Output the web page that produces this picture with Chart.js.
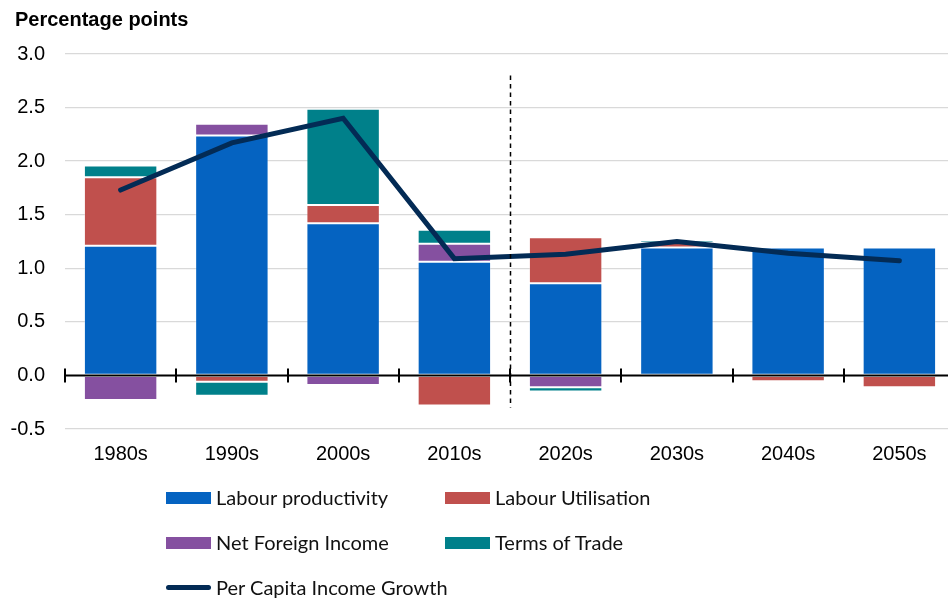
<!DOCTYPE html>
<html>
<head>
<meta charset="utf-8">
<script src="https://cdn.jsdelivr.net/npm/chart.js@4"></script>
<style>
  html, body { margin: 0; padding: 0; background: #fff; overflow: hidden; }
  #wrap { position: relative; width: 958px; height: 601px; }
  #legend { position: absolute; left: 0; top: 0; font-family: Lato, "Open Sans", sans-serif; font-size: 20px; color: #111; }
  .item { position: absolute; height: 24px; line-height: 24px; white-space: nowrap; }
  .swatch { position: absolute; left: 0; top: 6px; width: 45px; height: 12px; }
  .swatch.line { top: 9px; height: 5px; border-radius: 3px; }
  .item span.txt { position: absolute; left: 50px; top: -1px; }
</style>
</head>
<body>
<div id="wrap">
  <canvas id="chart" width="958" height="601"></canvas>
  <div id="legend"></div>
</div>
<script>
const decades = ["1980s", "1990s", "2000s", "2010s", "2020s", "2030s", "2040s", "2050s"];

const labourProductivity = [1.21, 2.24, 1.42, 1.06, 0.86, 1.195, 1.195, 1.195];
const labourUtilisation  = [0.64, -0.06, 0.17, -0.28, 0.43, 0.04, -0.055, -0.11];
const netForeignIncome   = [-0.23, 0.11, -0.09, 0.17, -0.11, -0.02, 0, 0];
const termsOfTrade       = [0.11, -0.13, 0.90, 0.13, -0.04, 0.025, 0, 0];
const perCapitaGrowth    = [1.73, 2.17, 2.40, 1.09, 1.13, 1.25, 1.14, 1.07];

const yTicks = [-0.5, 0.0, 0.5, 1.0, 1.5, 2.0, 2.5, 3.0];

const colours = {
  blue: "#0563C1",
  red: "#C0504D",
  purple: "#8550A0",
  teal: "#00808A",
  navy: "#032B55"
};

const axisFont = "'Liberation Sans', Arial, sans-serif";

// title, zero line, tick marks and the dashed forecast divider
const axisExtras = {
  id: "axisExtras",
  afterDatasetsDraw(chart) {
    const ctx = chart.ctx;
    const x = chart.scales.x;
    const y = chart.scales.y;
    const y0 = y.getPixelForValue(0);
    ctx.save();
    ctx.strokeStyle = "#000";
    ctx.lineWidth = 2;
    ctx.beginPath();
    ctx.moveTo(chart.chartArea.left, y0);
    ctx.lineTo(chart.chartArea.right, y0);
    for (let i = 0; i <= decades.length; i++) {
      const px = Math.round(x.getPixelForValue(i - 0.5));
      ctx.moveTo(px, y0 - 7);
      ctx.lineTo(px, y0 + 7);
    }
    ctx.stroke();

    const dx = Math.round(x.getPixelForValue(3.5)) + 0.5;
    ctx.lineWidth = 1.5;
    ctx.setLineDash([4.5, 4]);
    ctx.beginPath();
    ctx.moveTo(dx, y.getPixelForValue(2.8));
    ctx.lineTo(dx, y.getPixelForValue(-0.3));
    ctx.stroke();
    ctx.restore();
  },
  afterDraw(chart) {
    const ctx = chart.ctx;
    ctx.save();
    ctx.fillStyle = "#000";
    ctx.font = "bold 20px " + axisFont;
    ctx.textBaseline = "middle";
    ctx.fillText("Percentage points", 15, 20);
    ctx.restore();
  }
};

function barSet(label, data, color) {
  return {
    type: "bar",
    label: label,
    data: data,
    backgroundColor: color,
    borderColor: "rgba(255,255,255,0.3)",
    borderWidth: 1,
    borderSkipped: false,
    stack: "parts",
    order: 1,
    barPercentage: 0.66,
    categoryPercentage: 1
  };
}

const chart = new Chart(document.getElementById("chart"), {
  plugins: [axisExtras],
  data: {
    labels: decades,
    datasets: [
      {
        type: "line",
        label: "Per Capita Income Growth",
        data: perCapitaGrowth,
        borderColor: colours.navy,
        backgroundColor: colours.navy,
        borderWidth: 5,
        borderCapStyle: "round",
        pointRadius: 0,
        tension: 0,
        stack: "total",
        order: 0
      },
      barSet("Labour productivity", labourProductivity, colours.blue),
      barSet("Labour Utilisation", labourUtilisation, colours.red),
      barSet("Net Foreign Income", netForeignIncome, colours.purple),
      barSet("Terms of Trade", termsOfTrade, colours.teal)
    ]
  },
  options: {
    responsive: false,
    maintainAspectRatio: false,
    animation: false,
    devicePixelRatio: 1,
    layout: { padding: { left: 0, right: 3, top: 54, bottom: 122 } },
    plugins: {
      legend: { display: false },
      tooltip: { enabled: false },
      title: { display: false }
    },
    scales: {
      x: {
        stacked: true,
        grid: { display: false, drawTicks: false },
        border: { display: false },
        ticks: {
          color: "#000",
          padding: 13,
          font: { family: axisFont, size: 20 }
        }
      },
      y: {
        stacked: true,
        min: -0.5,
        max: 3.0,
        afterFit(scale) { scale.width = 65; },
        afterBuildTicks(scale) { scale.ticks = yTicks.map(v => ({ value: v })); },
        grid: {
          color: (c) => (c.tick && c.tick.value === 0 ? "rgba(0,0,0,0)" : "#D9D9D9"),
          lineWidth: 1.3,
          drawTicks: false
        },
        border: { display: false },
        ticks: {
          color: "#000",
          padding: 20,
          font: { family: axisFont, size: 20 },
          callback: (v) => Number(v).toFixed(1)
        }
      }
    }
  }
});

// legend laid out in two columns like the source
const legendSpots = [
  { ds: 1, left: 166, top: 486 },
  { ds: 2, left: 445, top: 486 },
  { ds: 3, left: 166, top: 531 },
  { ds: 4, left: 445, top: 531 },
  { ds: 0, left: 166, top: 576 }
];
const legend = document.getElementById("legend");
legendSpots.forEach(s => {
  const d = chart.data.datasets[s.ds];
  const item = document.createElement("div");
  item.className = "item";
  item.style.left = s.left + "px";
  item.style.top = s.top + "px";
  const sw = document.createElement("div");
  sw.className = "swatch" + (d.type === "line" ? " line" : "");
  sw.style.background = d.type === "line" ? d.borderColor : d.backgroundColor;
  const tx = document.createElement("span");
  tx.className = "txt";
  tx.textContent = d.label;
  item.appendChild(sw);
  item.appendChild(tx);
  legend.appendChild(item);
});
</script>
</body>
</html>
